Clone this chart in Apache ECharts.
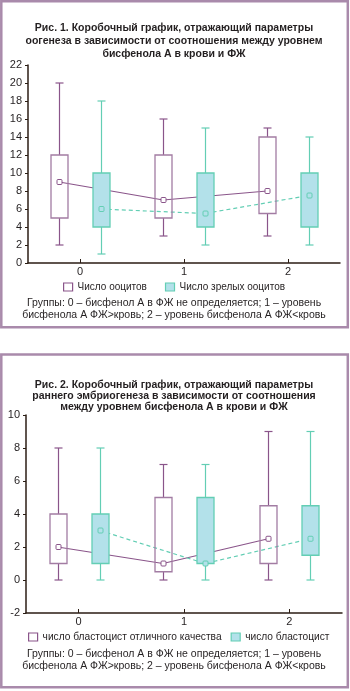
<!DOCTYPE html>
<html>
<head>
<meta charset="utf-8">
<script src="https://cdn.jsdelivr.net/npm/echarts@6/dist/echarts.min.js"></script>
<style>
  html, body { margin: 0; padding: 0; background: #fff; }
  #chart { width: 350px; height: 691px; }
</style>
</head>
<body>
<div id="chart"></div>
<script>
// группы по соотношению бисфенола А
var groups = ['0', '1', '2']

// Рис. 1 - число ооцитов
var oocMin = [2, 3, 3]
var oocQ1 = [5, 5, 5.5]
var oocMed = [9, 7, 8]
var oocQ3 = [12, 12, 14]
var oocMax = [20, 16, 15]
// Рис. 1 - число зрелых ооцитов
var matMin = [1, 2, 2]
var matQ1 = [4, 4, 4]
var matMed = [6, 5.5, 7.5]
var matQ3 = [10, 10, 10]
var matMax = [18, 15, 14]

// Рис. 2 - число бластоцист отличного качества
var blExMin = [0, 0, 0]
var blExQ1 = [1, 0.5, 1]
var blExMed = [2, 1, 2.5]
var blExQ3 = [4, 5, 4.5]
var blExMax = [8, 7, 9]
// Рис. 2 - число бластоцист
var blMin = [0, 0, 0]
var blQ1 = [1, 1, 1.5]
var blMed = [3, 1, 2.5]
var blQ3 = [4, 5, 4.5]
var blMax = [8, 7, 9]

var y1Ticks = { min: 0, max: 22, step: 2 }
var y2Ticks = { min: -2, max: 10, step: 2 }

var names1 = ['Число ооцитов', 'Число зрелых ооцитов']
var names2 = ['число бластоцист отличного качества', 'число бластоцист']

var title1 = 'Рис. 1. Коробочный график, отражающий параметры\nоогенеза в зависимости от соотношения между уровнем\nбисфенола А в крови и ФЖ'
var title2 = 'Рис. 2. Коробочный график, отражающий параметры\nраннего эмбриогенеза в зависимости от соотношения\nмежду уровнем бисфенола А в крови и ФЖ'
var note = 'Группы: 0 – бисфенол А в ФЖ не определяется; 1 – уровень\nбисфенола А ФЖ>кровь; 2 – уровень бисфенола А ФЖ<кровь'

var FONT = '"Liberation Sans", Arial, sans-serif'
var TXT = '#231f20'
var AXIS = '#2b1d14'
var PURPLE = '#8a558a'
var PURPLE_BOX = '#a27ca3'
var TEAL = '#63ceb4'
var TEAL_FILL = '#b3e1ea'
var FRAME = '#a98aab'

var SHIFT = 0.2 // сдвиг коробок от центра группы

function boxData(mn, q1, md, q3, mx, shift) {
  return groups.map(function (g, i) {
    return [i + shift, mn[i], q1[i], md[i], q3[i], mx[i]]
  })
}
function medData(md, shift) {
  return groups.map(function (g, i) {
    return [i + shift, md[i]]
  })
}

function makeRender(line, border, fill, markFill) {
  return function (params, api) {
    var x = api.value(0)
    var pMin = api.coord([x, api.value(1)])
    var pQ1 = api.coord([x, api.value(2)])
    var pMed = api.coord([x, api.value(3)])
    var pQ3 = api.coord([x, api.value(4)])
    var pMax = api.coord([x, api.value(5)])
    var cx = Math.round(pMin[0]) + 0.5
    var bw = 17
    var cw = 8
    var ls = { stroke: line, lineWidth: 1.2 }
    return {
      type: 'group',
      children: [
        { type: 'line', shape: { x1: cx, y1: pMax[1], x2: cx, y2: pQ3[1] }, style: ls },
        { type: 'line', shape: { x1: cx, y1: pQ1[1], x2: cx, y2: pMin[1] }, style: ls },
        { type: 'line', shape: { x1: cx - cw / 2, y1: pMax[1], x2: cx + cw / 2, y2: pMax[1] }, style: ls },
        { type: 'line', shape: { x1: cx - cw / 2, y1: pMin[1], x2: cx + cw / 2, y2: pMin[1] }, style: ls },
        {
          type: 'rect',
          shape: { x: cx - bw / 2, y: pQ3[1], width: bw, height: pQ1[1] - pQ3[1] },
          style: { fill: fill, stroke: border, lineWidth: 1.3 }
        },
        {
          type: 'rect',
          shape: { x: cx - 2.5, y: pMed[1] - 2.5, width: 5, height: 5, r: 1 },
          style: { fill: markFill, stroke: line, lineWidth: 1 }
        }
      ]
    }
  }
}

function xAxisFor(gi) {
  return {
    type: 'value',
    gridIndex: gi,
    min: -0.5,
    max: 2.5,
    splitLine: { show: false },
    axisLine: { onZero: false, lineStyle: { color: AXIS, width: 1.5 } },
    axisTick: { customValues: [0, 1, 2], inside: true, length: 4, lineStyle: { color: AXIS } },
    axisLabel: {
      customValues: [0, 1, 2],
      formatter: function (v) { return groups[v] },
      margin: 3,
      color: TXT,
      fontSize: 11,
      fontFamily: FONT
    }
  }
}
function yAxisFor(gi, t) {
  return {
    type: 'value',
    gridIndex: gi,
    min: t.min,
    max: t.max,
    interval: t.step,
    splitLine: { show: false },
    axisLine: { show: true, onZero: false, lineStyle: { color: AXIS, width: 1.5 } },
    axisTick: { show: true, length: 3, lineStyle: { color: AXIS } },
    axisLabel: { margin: 6, color: TXT, fontSize: 11, fontFamily: FONT }
  }
}

function seriesFor(gi, name, mn, q1, md, q3, mx, shift, isTeal) {
  return [
    {
      name: name,
      type: 'line',
      xAxisIndex: gi,
      yAxisIndex: gi,
      data: medData(md, shift),
      showSymbol: false,
      z: 2,
      lineStyle: { color: isTeal ? TEAL : PURPLE, width: 1.2, type: isTeal ? [4, 3] : 'solid' },
      itemStyle: { color: isTeal ? TEAL : PURPLE }
    },
    {
      name: name,
      type: 'custom',
      xAxisIndex: gi,
      yAxisIndex: gi,
      z: 3,
      data: boxData(mn, q1, md, q3, mx, shift),
      renderItem: isTeal
        ? makeRender(TEAL, TEAL, TEAL_FILL, TEAL_FILL)
        : makeRender(PURPLE, PURPLE_BOX, 'none', '#fff')
    }
  ]
}

function legendItems(names) {
  return [
    { name: names[0], icon: 'rect', itemStyle: { color: '#fff', borderColor: PURPLE, borderWidth: 1.2 } },
    { name: names[1], icon: 'rect', itemStyle: { color: TEAL_FILL, borderColor: TEAL, borderWidth: 1.2 } }
  ]
}

function titleAt(text, top, bold, lh) {
  return {
    text: text, left: 174, top: top, textAlign: 'center', padding: 0,
    textStyle: {
      fontSize: 10.5, fontWeight: bold ? 'bold' : 'normal', lineHeight: lh,
      color: TXT, fontFamily: FONT
    }
  }
}

var chart = echarts.init(document.getElementById('chart'))
chart.setOption({
  animation: false,
  backgroundColor: '#fff',
  title: [
    titleAt(title1, 22, true, 13),
    titleAt(note, 297.5, false, 12),
    titleAt(title2, 379.5, true, 11),
    titleAt(note, 648, false, 12)
  ],
  legend: [
    {
      data: legendItems(names1), left: 63, top: 282, padding: 0, itemWidth: 9, itemHeight: 8, itemGap: 18,
      textStyle: { fontSize: 10, color: TXT, fontFamily: FONT }
    },
    {
      data: legendItems(names2), left: 28, top: 632, padding: 0, itemWidth: 9, itemHeight: 8, itemGap: 9,
      textStyle: { fontSize: 10.2, color: TXT, fontFamily: FONT }
    }
  ],
  grid: [
    { left: 28, right: 10, top: 65, height: 198 },
    { left: 26, right: 8, top: 415, height: 198 }
  ],
  xAxis: [xAxisFor(0), xAxisFor(1)],
  yAxis: [yAxisFor(0, y1Ticks), yAxisFor(1, y2Ticks)],
  graphic: [
    { type: 'rect', shape: { x: 1.3, y: 1.3, width: 346.5, height: 326 }, style: { fill: 'none', stroke: FRAME, lineWidth: 2.5 } },
    { type: 'rect', shape: { x: 1.3, y: 354.6, width: 346.5, height: 332.7 }, style: { fill: 'none', stroke: FRAME, lineWidth: 2.5 } }
  ],
  series: []
    .concat(seriesFor(0, names1[0], oocMin, oocQ1, oocMed, oocQ3, oocMax, -SHIFT, false))
    .concat(seriesFor(0, names1[1], matMin, matQ1, matMed, matQ3, matMax, SHIFT, true))
    .concat(seriesFor(1, names2[0], blExMin, blExQ1, blExMed, blExQ3, blExMax, -SHIFT, false))
    .concat(seriesFor(1, names2[1], blMin, blQ1, blMed, blQ3, blMax, SHIFT, true))
})
</script>
</body>
</html>
